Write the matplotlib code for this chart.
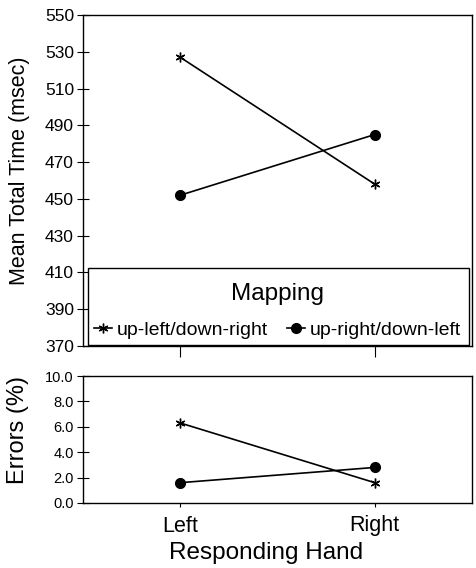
import matplotlib
matplotlib.use("Agg")
import matplotlib.pyplot as plt
from matplotlib.patches import Rectangle

plt.rcParams['font.family'] = ['Liberation Sans', 'DejaVu Sans']

hands = ["Left", "Right"]
series_names = ["up-left/down-right", "up-right/down-left"]
total_time = [[527, 458], [452, 485]]
errors = [[6.3, 1.6], [1.6, 2.8]]
markers = [(6, 2, 0), "o"]

fig = plt.figure(figsize=(4.76, 5.68), dpi=100)
ax1 = fig.add_axes([83 / 476, 1 - 346 / 568, 389 / 476, 331 / 568])
ax2 = fig.add_axes([83 / 476, 1 - 503 / 568, 389 / 476, 127 / 568])

x = list(range(len(hands)))
lines = []
for vals, name, m in zip(total_time, series_names, markers):
    ln, = ax1.plot(x, vals, color="black", lw=1.2, marker=m,
                   markersize=7, markeredgewidth=1.0, label=name)
    lines.append(ln)
for vals, m in zip(errors, markers):
    ax2.plot(x, vals, color="black", lw=1.2, marker=m,
             markersize=7, markeredgewidth=1.0)

ax1.set_ylim(370, 550)
ax1.set_yticks(range(370, 551, 20))
ax1.set_xlim(-0.5, 1.5)
ax1.set_xticks(x)
ax1.set_xticklabels([])
ax1.set_ylabel("Mean Total Time (msec)", fontsize=15.5)
ax1.yaxis.set_label_coords(-0.137, 0.529)

ax2.set_ylim(0, 10)
ax2.set_yticks([0, 2, 4, 6, 8, 10])
ax2.set_yticklabels(["%.1f" % v for v in [0, 2, 4, 6, 8, 10]])
ax2.set_xlim(-0.5, 1.5)
ax2.set_xticks(x)
ax2.set_xticklabels(hands, fontsize=15.5)
ax2.set_ylabel("Errors (%)", fontsize=17)
ax2.yaxis.set_label_coords(-0.14, 0.575)
ax2.set_xlabel("Responding Hand", fontsize=17.5)
ax2.xaxis.set_label_coords(0.47, -0.31)

for ax in (ax1, ax2):
    ax.tick_params(axis="y", direction="inout", length=9, width=0.8, pad=2)
    for s in ax.spines.values():
        s.set_linewidth(1.0)
ax1.tick_params(axis="y", labelsize=12.5)
ax2.tick_params(axis="y", labelsize=10.5)
ax1.tick_params(axis="x", direction="out", length=8, width=0.8)
ax2.tick_params(axis="x", direction="out", length=3, width=0.8, pad=6)

# legend box inside the lower part of the top panel
box = (5 / 389, 1 / 331, 381 / 389, 77 / 331)
ax1.add_patch(Rectangle(box[:2], box[2], box[3], transform=ax1.transAxes,
                        facecolor="white", edgecolor="black", lw=1.0, zorder=4))
leg = ax1.legend(handles=lines, title="Mapping", ncol=2, loc="center",
                 bbox_to_anchor=(0.5, (346 - 311) / 331), fontsize=14,
                 title_fontsize=17.5, frameon=False, handlelength=0.9,
                 handletextpad=0.25, columnspacing=1.0, borderpad=0.2,
                 labelspacing=0.82)
leg.set_zorder(5)

fig.savefig("out.png", dpi=100)
